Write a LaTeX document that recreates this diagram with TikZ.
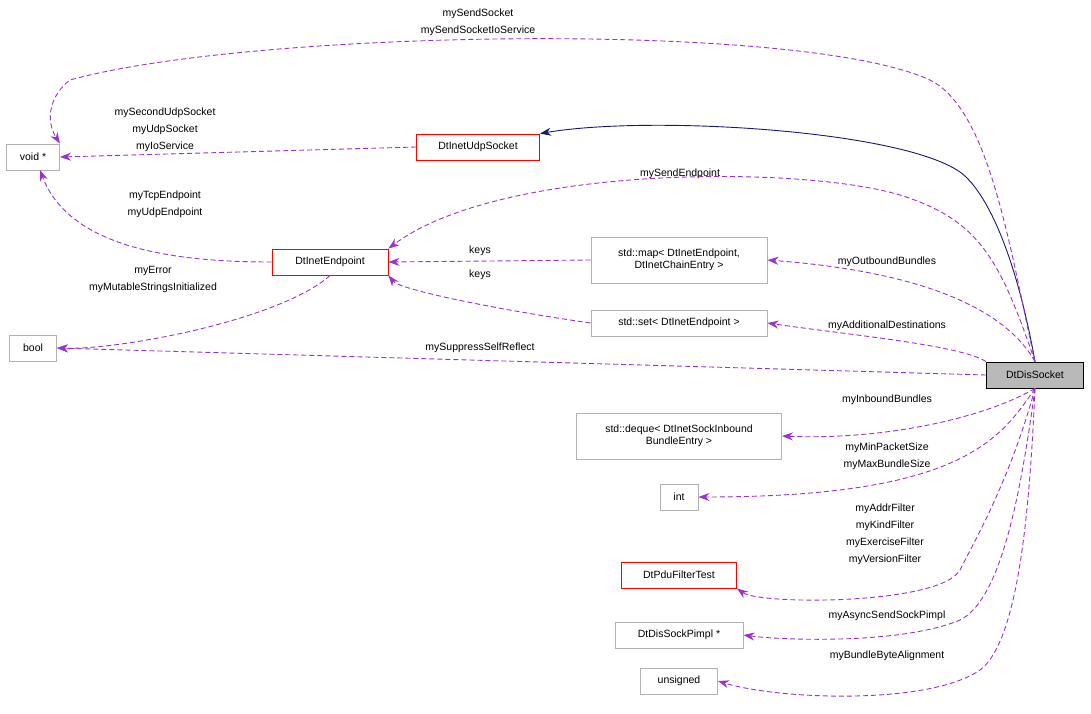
\documentclass[tikz,border=0pt]{standalone}
\usepackage{fontspec}
\setmainfont{Liberation Sans}
\usetikzlibrary{arrows.meta}
\definecolor{pur}{HTML}{9A32CD}
\definecolor{nav}{HTML}{191970}
\begin{document}
\begin{tikzpicture}[x=1pt,y=-1pt,line width=0.9pt,
 every node/.style={font=\fontsize{10.5}{12.5}\selectfont},
 box/.style={draw=gray!60,fill=white,minimum height=26pt,inner xsep=6pt,align=center},
 rbox/.style={box,draw=red},
 dep/.style={draw=pur,dashed,dash pattern=on 5pt off 3pt,-{Stealth[length=11pt,width=8pt]},fill=none},
 lab/.style={align=center,inner sep=0pt,font=\fontsize{10.5}{17}\selectfont}]
\useasboundingbox (0,0) rectangle (1091,713);
\node[box,minimum width=53pt] (void) at (33,157) {void *};
\node[rbox,minimum width=123pt] (udp) at (478,147) {DtInetUdpSocket};
\node[rbox,minimum width=116pt] (ep) at (330,262) {DtInetEndpoint};
\node[box,minimum width=47pt] (bool) at (33,348) {bool};
\node[box,minimum width=176pt,minimum height=46pt] (map) at (679,260) {std::map< DtInetEndpoint,\\DtInetChainEntry >};
\node[box,minimum width=176pt] (set) at (679,323) {std::set< DtInetEndpoint >};
\node[draw=black,fill=gray!55,minimum width=97pt,minimum height=26pt] (dis) at (1035,375) {DtDisSocket};
\node[box,minimum width=205pt,minimum height=46pt] (deq) at (679,436) {std::deque< DtInetSockInbound\\BundleEntry >};
\node[box,minimum width=38pt] (int) at (679,497) {int};
\node[rbox,minimum width=115pt] (pdu) at (679,575) {DtPduFilterTest};
\node[box,minimum width=128pt] (pimpl) at (679,635) {DtDisSockPimpl *};
\node[box,minimum width=77pt] (uns) at (679,681) {unsigned};

\draw[nav,-{Stealth[length=11pt,width=8pt]}] (dis.north) .. controls (1015,250) and (985,190) .. (960,172) .. controls (900,130) and (650,115) .. (udp.north east);
\draw[dep] (dis.north) .. controls (1010,250) and (990,110) .. (930,80) .. controls (800,20) and (250,30) .. (70,80) .. controls (50,95) and (45,120) .. (void.north east);
\node[lab] at (478,22) {mySendSocket\\mySendSocketIoService};
\draw[dep] (udp.west) -- (void.east);
\node[lab] at (165,130) {mySecondUdpSocket\\myUdpSocket\\myIoService};
\draw[dep] (ep.west) .. controls (180,262) and (70,250) .. (40,170);
\node[lab] at (165,204) {myTcpEndpoint\\myUdpEndpoint};
\draw[dep] (dis.north) .. controls (1000,260) and (980,220) .. (900,195) .. controls (800,165) and (500,165) .. (ep.north east);
\node[lab] at (680,174) {mySendEndpoint};
\draw[dep] (map.west) -- (ep.east);
\node[lab] at (480,251) {keys};
\draw[dep] (set.west) .. controls (500,310) and (400,290) .. (ep.south east);
\node[lab] at (480,275) {keys};
\draw[dep] (ep.south) .. controls (280,320) and (120,350) .. (bool.east);
\node[lab] at (153,279) {myError\\myMutableStringsInitialized};
\draw[dep] (dis.west) -- (bool.east);
\node[lab] at (480,348) {mySuppressSelfReflect};
\draw[dep] (dis.north) .. controls (1000,300) and (900,270) .. (map.east);
\node[lab] at (887,262) {myOutboundBundles};
\draw[dep] (dis.north west) .. controls (960,345) and (850,335) .. (set.east);
\node[lab] at (887,326) {myAdditionalDestinations};
\draw[dep] (dis.south) .. controls (980,420) and (880,440) .. (deq.east);
\node[lab] at (887,400) {myInboundBundles};
\draw[dep] (dis.south) .. controls (1000,440) and (960,497) .. (int.east);
\node[lab] at (887,456) {myMinPacketSize\\myMaxBundleSize};
\draw[dep] (dis.south) .. controls (1010,480) and (975,540) .. (960,570) .. controls (940,605) and (760,605) .. (pdu.south east);
\node[lab] at (885,534) {myAddrFilter\\myKindFilter\\myExerciseFilter\\myVersionFilter};
\draw[dep] (dis.south) .. controls (1020,500) and (1000,600) .. (960,620) .. controls (900,645) and (780,640) .. (pimpl.east);
\node[lab] at (887,616) {myAsyncSendSockPimpl};
\draw[dep] (dis.south) .. controls (1030,500) and (1020,640) .. (980,670) .. controls (930,705) and (780,700) .. (uns.east);
\node[lab] at (887,656) {myBundleByteAlignment};
\end{tikzpicture}
\end{document}
